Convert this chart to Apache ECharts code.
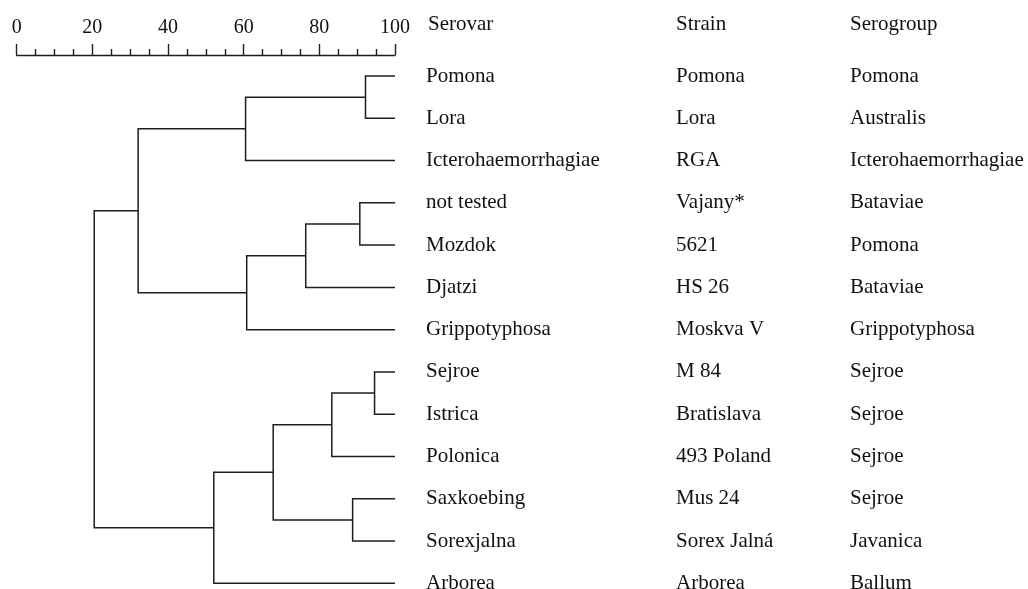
<!DOCTYPE html>
<html>
<head>
<meta charset="utf-8">
<script src="https://cdn.jsdelivr.net/npm/echarts@6/dist/echarts.min.js"></script>
<style>html,body{margin:0;padding:0;background:#fff;}#c{width:1028px;height:589px;}</style>
</head>
<body>
<div id="c"></div>
<script>
// ---- data ----
const serovars = ['Pomona','Lora','Icterohaemorrhagiae','not tested','Mozdok','Djatzi','Grippotyphosa','Sejroe','Istrica','Polonica','Saxkoebing','Sorexjalna','Arborea'];
const strains = ['Pomona','Lora','RGA','Vajany*','5621','HS 26','Moskva V','M 84','Bratislava','493 Poland','Mus 24','Sorex Jalná','Arborea'];
const serogroups = ['Pomona','Australis','Icterohaemorrhagiae','Bataviae','Pomona','Bataviae','Grippotyphosa','Sejroe','Sejroe','Sejroe','Sejroe','Javanica','Ballum'];
const headers = ['Serovar','Strain','Serogroup'];
const scaleTicks = [0,20,40,60,80,100];
// merges: [child A, child B, similarity %]; leaves are 0..12, merged nodes get 13, 14, ...
const merges = [
  [0, 1, 92.2],
  [13, 2, 60.5],
  [3, 4, 90.7],
  [15, 5, 76.4],
  [16, 6, 60.8],
  [14, 17, 32.1],
  [7, 8, 94.6],
  [19, 9, 83.3],
  [10, 11, 88.8],
  [20, 21, 67.8],
  [22, 12, 52.1],
  [18, 23, 20.5]
];

// ---- derive node positions from the tree ----
const nLeaf = serovars.length;
const nodeY = serovars.map((_, i) => i);
const nodeH = serovars.map(() => scaleTicks[scaleTicks.length - 1]);
merges.forEach(m => {
  nodeY.push((nodeY[m[0]] + nodeY[m[1]]) / 2);
  nodeH.push(m[2]);
});

const FONT = "'Liberation Serif','Times New Roman',serif";
const INK = '#1e1e1e';

const chart = echarts.init(document.getElementById('c'), null, {renderer: 'canvas'});

function labelAxis(data, offset) {
  return {
    type: 'category', data: data, position: 'right', inverse: true, boundaryGap: false,
    offset: offset, gridIndex: 0,
    axisLine: {show: false}, axisTick: {show: false}, splitLine: {show: false},
    axisLabel: {show: true, margin: 31, fontSize: 21, fontFamily: FONT, color: '#111', align: 'left', interval: 0}
  };
}

chart.setOption({
  animation: false,
  backgroundColor: '#fff',
  grid: {left: 16.7, right: 633, top: 76, height: 507.3, outerBoundsMode: 'none', containLabel: false},
  xAxis: {
    type: 'value', position: 'top', min: 0, max: 100, interval: 20, offset: 21,
    axisLine: {show: true, onZero: false, lineStyle: {color: INK, width: 1.4}},
    axisTick: {show: true, length: 11, lineStyle: {color: INK, width: 1.4}},
    minorTick: {show: true, splitNumber: 4, length: 6, lineStyle: {color: INK, width: 1.4}},
    splitLine: {show: false}, minorSplitLine: {show: false},
    axisLabel: {fontSize: 20, fontFamily: FONT, color: '#111', margin: 17}
  },
  yAxis: [
    {type: 'value', min: 0, max: nLeaf - 1, inverse: true, show: false},
    labelAxis(serovars, 0),
    labelAxis(strains, 250),
    labelAxis(serogroups, 424)
  ],
  graphic: headers.map((h, i) => ({
    type: 'text', left: [428, 676, 850][i], top: 14,
    style: {text: h, font: '21px ' + FONT, fill: '#111'}
  })),
  series: [{
    type: 'custom',
    xAxisIndex: 0, yAxisIndex: 0,
    data: merges.map((m, i) => [m[2], nodeY[nLeaf + i], i]),
    renderItem: function (params, api) {
      const i = api.value(2);
      const m = merges[i];
      const a = m[0], b = m[1], h = m[2];
      const pts = [
        api.coord([nodeH[a], nodeY[a]]),
        api.coord([h, nodeY[a]]),
        api.coord([h, nodeY[b]]),
        api.coord([nodeH[b], nodeY[b]])
      ];
      return {
        type: 'polyline',
        shape: {points: pts},
        style: {stroke: INK, lineWidth: 1.5, fill: null}
      };
    }
  }]
});
</script>
</body>
</html>
